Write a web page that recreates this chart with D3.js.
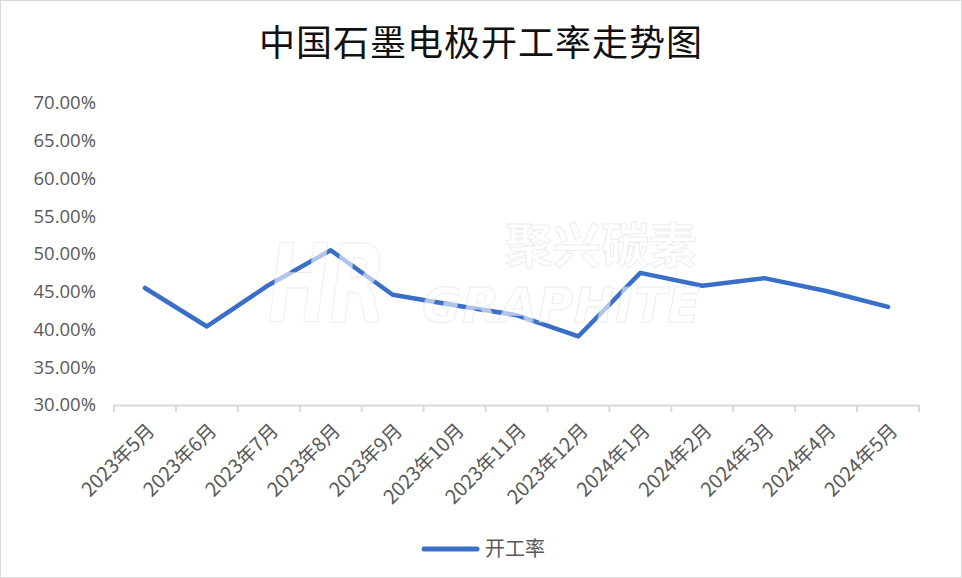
<!DOCTYPE html>
<html><head><meta charset="utf-8">
<script src="https://cdn.jsdelivr.net/npm/d3@7/dist/d3.min.js"></script>
<style>
html,body{margin:0;padding:0;background:#fff;}
svg{display:block;}
</style></head>
<body>
<svg id="chart" width="962" height="578"></svg>
<script>
const title = "中国石墨电极开工率走势图";
const seriesName = "开工率";
const categories = ["2023年5月","2023年6月","2023年7月","2023年8月","2023年9月","2023年10月","2023年11月","2023年12月","2024年1月","2024年2月","2024年3月","2024年4月","2024年5月"];
const values = [45.5, 40.4, 45.9, 50.5, 44.6, 43.2, 41.9, 39.1, 47.5, 45.8, 46.8, 45.1, 43.0];
const yTicks = [30, 35, 40, 45, 50, 55, 60, 65, 70];

const svg = d3.select("#chart");
const W = 962, H = 578;
const font = "'Noto Sans CJK SC','Open Sans',sans-serif";
const margin = {left:114, right:43, top:103, bottom:173};

svg.append("rect").attr("x",0.5).attr("y",0.5).attr("width",W-1).attr("height",H-1)
  .attr("fill","#fff").attr("stroke","#d9d9d9");

svg.append("text").attr("x",481).attr("y",56).attr("text-anchor","middle")
  .attr("font-family",font).attr("font-size",36).attr("fill","#111")
  .attr("letter-spacing",1).text(title);

const x = d3.scaleBand().domain(categories).range([margin.left, W-margin.right]).padding(0);
const y = d3.scaleLinear().domain([30,70]).range([H-margin.bottom, margin.top]);

// y axis labels
const yAxis = d3.axisLeft(y).tickValues(yTicks).tickSize(0).tickPadding(0)
  .tickFormat(d => d3.format(".2f")(d) + "%");
const gy = svg.append("g").attr("transform",`translate(96,0)`).call(yAxis);
gy.select(".domain").remove();
gy.selectAll("text").attr("font-family","'Open Sans',sans-serif").attr("font-size",18.5).attr("fill","#595959");

// x axis
const xAxis = d3.axisBottom(x).tickSizeOuter(0).tickSize(0).tickFormat("");
const gx = svg.append("g").attr("transform",`translate(0,${H-margin.bottom})`).call(xAxis);
gx.select(".domain").attr("stroke","#d9d9d9").attr("stroke-width",2);
gx.selectAll(".tick").remove();
const bounds = categories.map(c => x(c)).concat([x(categories[categories.length-1]) + x.bandwidth()]);
gx.selectAll("line.bt").data(bounds).enter().append("line").attr("class","bt")
  .attr("x1",d=>d).attr("x2",d=>d).attr("y1",0).attr("y2",7)
  .attr("stroke","#d9d9d9").attr("stroke-width",2);
gx.selectAll("text.xl").data(categories).enter().append("text").attr("class","xl")
  .attr("transform", d => `translate(${x(d)+x.bandwidth()/2+6},${22}) rotate(-45)`)
  .attr("text-anchor","end").attr("dy","0.35em")
  .attr("font-family",font).attr("font-size",19.5).attr("fill","#595959").text(d=>d);

// line
const line = d3.line().x((d,i)=>x(categories[i])+x.bandwidth()/2).y(d=>y(d));
svg.append("path").datum(values).attr("d",line).attr("fill","none")
  .attr("stroke","#3a6fc8").attr("stroke-width",4.5).attr("stroke-linejoin","round").attr("stroke-linecap","round");

// watermark
const wm = svg.append("g").attr("opacity",0.6).attr("pointer-events","none");
wm.append("text").attr("transform","translate(268,322) scale(1.05,1.55)")
  .attr("font-family","'DejaVu Sans',sans-serif")
  .attr("font-weight","bold").attr("font-style","italic").attr("font-size",70)
  .attr("fill","#fff").attr("stroke","#e0e0e0").attr("stroke-width",0.7).text("HR");
wm.append("text").attr("x",422).attr("y",322).attr("font-family","'DejaVu Sans',sans-serif")
  .attr("font-weight","bold").attr("font-style","italic").attr("font-size",48)
  .attr("fill","#fff").attr("stroke","#e0e0e0").attr("stroke-width",1).attr("textLength",278).text("GRAPHITE");
wm.append("text").attr("x",505).attr("y",263).attr("font-family",font).attr("font-weight","bold")
  .attr("font-size",48).attr("fill","#fff").attr("stroke","#e0e0e0").attr("stroke-width",1).text("聚兴碳素");

// legend
svg.append("line").attr("x1",424).attr("x2",477).attr("y1",549).attr("y2",549)
  .attr("stroke","#3a6fc8").attr("stroke-width",5).attr("stroke-linecap","round");
svg.append("text").attr("x",485).attr("y",549).attr("dy","0.35em")
  .attr("font-family",font).attr("font-size",20).attr("fill","#595959").text(seriesName);
</script>
</body></html>
